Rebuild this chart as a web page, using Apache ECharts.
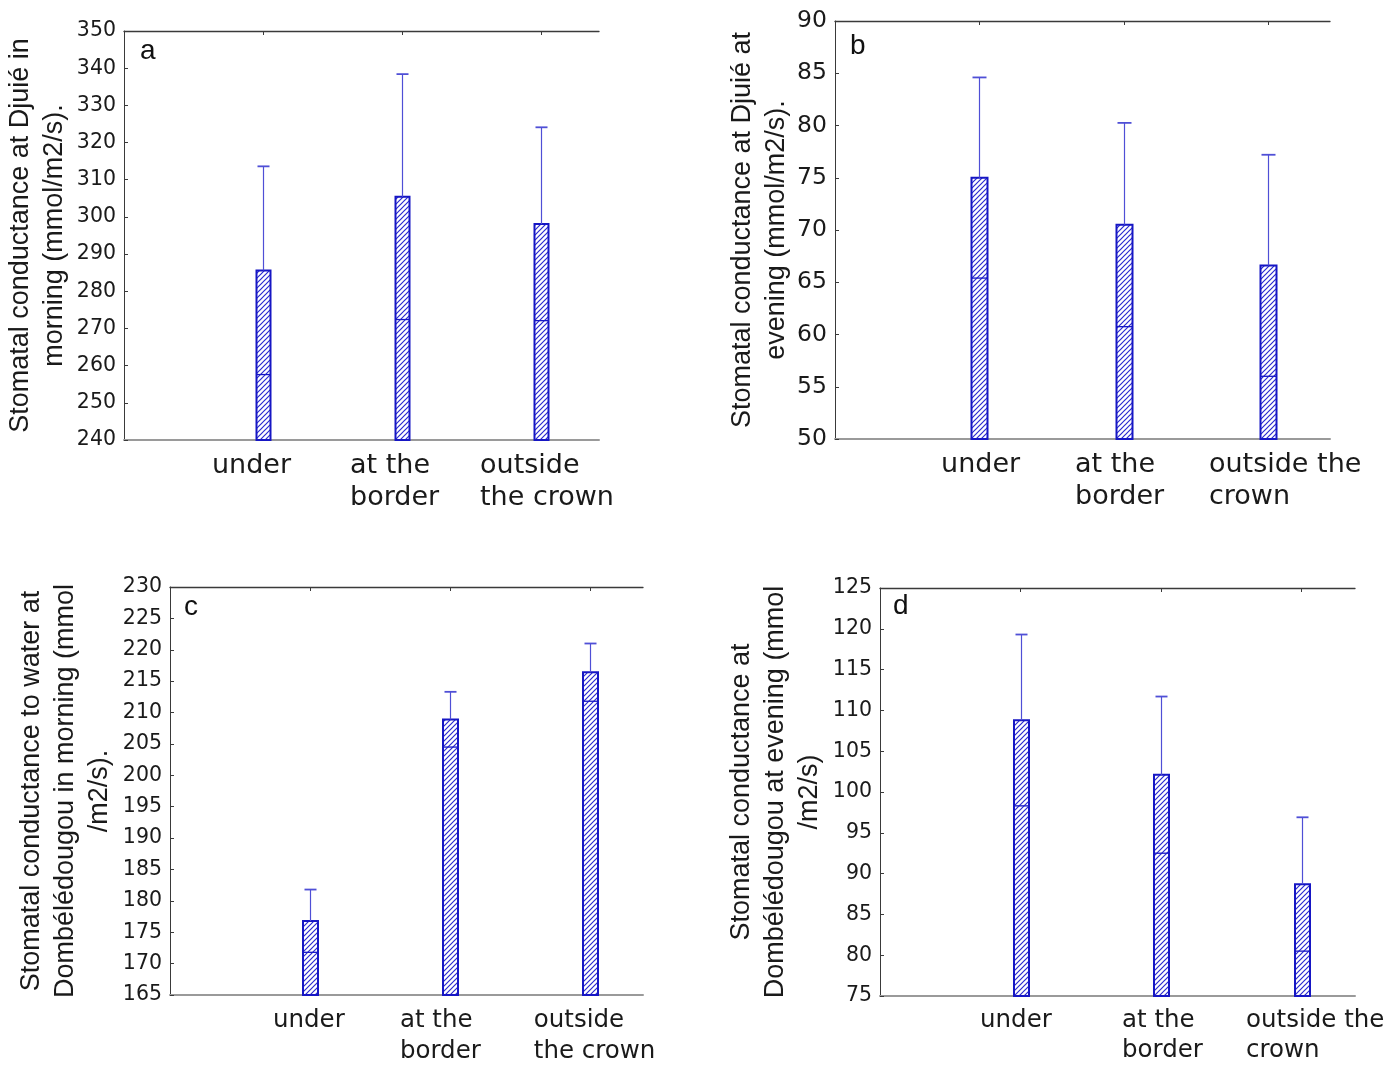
<!DOCTYPE html>
<html>
<head>
<meta charset="utf-8">
<script src="https://cdn.jsdelivr.net/npm/echarts@6/dist/echarts.min.js"></script>
<style>
  html, body { margin: 0; padding: 0; background: #ffffff; }
  #chart { width: 1397px; height: 1067px; }
</style>
</head>
<body>
<div id="chart"></div>
<script>
// ---- Data -----------------------------------------------------------------
// Category labels (two wrapping variants) and their slots on the x scale
const labelsNarrow = ['under', 'at the\nborder', 'outside\nthe crown'];
const labelsWide   = ['under', 'at the\nborder', 'outside the\ncrown'];
const slots = [1, 2, 3];

// Stomatal conductance, mean and standard deviation (mmol/m2/s)
const djuieMorningMean = [285.6, 305.4, 298.1];
const djuieMorningSd   = [28.0, 33.0, 26.0];
const djuieEveningMean = [75.0, 70.5, 66.6];
const djuieEveningSd   = [9.6, 9.75, 10.6];
const dombeMorningMean = [176.8, 208.9, 216.4];
const dombeMorningSd   = [5.0, 4.4, 4.6];
const dombeEveningMean = [108.8, 102.1, 88.7];
const dombeEveningSd   = [10.5, 9.6, 8.2];

// Value-axis ranges
const yRangeA = [240, 350, 10];
const yRangeB = [50, 90, 5];
const yRangeC = [165, 230, 5];
const yRangeD = [75, 125, 5];

// Axis titles
const titleA = 'Stomatal conductance at Djuié in\nmorning (mmol/m2/s).';
const titleB = 'Stomatal conductance at Djuié at\nevening (mmol/m2/s).';
const titleC = 'Stomatal conductance to water at\nDombélédougou in morning (mmol\n/m2/s).';
const titleD = 'Stomatal conductance at\nDombélédougou at evening (mmol\n/m2/s)';

// ---- Styling ----------------------------------------------------------------
const BAR_BLUE = '#1616c4';
const WHISKER_BLUE = '#4f4fd6';
const AXIS_DARK = '#3a3a3a';
const TEXT = '#1a1a1a';

// Diagonal hatch tile for the bar fill
function makeHatch() {
  const s = 5;
  const c = document.createElement('canvas');
  c.width = s; c.height = s;
  const g = c.getContext('2d');
  g.fillStyle = '#ffffff';
  g.fillRect(0, 0, s, s);
  g.strokeStyle = '#2a2ad0';
  g.lineWidth = 1.2;
  g.beginPath();
  g.moveTo(-1, s + 1); g.lineTo(s + 1, -1);
  g.moveTo(-1, 1); g.lineTo(1, -1);
  g.moveTo(s - 1, s + 1); g.lineTo(s + 1, s - 1);
  g.stroke();
  return c;
}
const hatch = { image: makeHatch(), repeat: 'repeat' };

// Panel layout: grid rectangle, x extent, label anchors, fonts
const panels = [
  { letter: 'a', mean: djuieMorningMean, sd: djuieMorningSd, y: yRangeA, title: titleA, labels: labelsNarrow,
    grid: { left: 124, top: 31, width: 475, height: 409 }, xMax: 3.417, labelAt: [0.633, 1.626, 2.561],
    tickSize: 20.5, catSize: 27, catLH: 32, nameGap: 52, barW: 14, capW: 12, letterPos: [140, 51] },
  { letter: 'b', mean: djuieEveningMean, sd: djuieEveningSd, y: yRangeB, title: titleB, labels: labelsWide,
    grid: { left: 835, top: 21, width: 495, height: 418 }, xMax: 3.426, labelAt: [0.734, 1.661, 2.588],
    tickSize: 23.5, catSize: 27, catLH: 32, nameGap: 40, barW: 16, capW: 14, letterPos: [850, 46] },
  { letter: 'c', mean: dombeMorningMean, sd: dombeMorningSd, y: yRangeC, title: titleC, labels: labelsNarrow,
    grid: { left: 170, top: 587, width: 473, height: 409 }, xMax: 3.38, labelAt: [0.736, 1.643, 2.6],
    tickSize: 20.5, catSize: 24.5, catLH: 31, nameGap: 53, barW: 15, capW: 12, letterPos: [184, 607] },
  { letter: 'd', mean: dombeEveningMean, sd: dombeEveningSd, y: yRangeD, title: titleD, labels: labelsWide,
    grid: { left: 880, top: 588, width: 475, height: 408 }, xMax: 3.38, labelAt: [0.712, 1.722, 2.605],
    tickSize: 20.5, catSize: 24.5, catLH: 30, nameGap: 53, barW: 15, capW: 12, letterPos: [893, 606] }
];

function barRenderer(p) {
  return function (params, api) {
    const x = api.value(0), m = api.value(1), s = api.value(2);
    const top = api.coord([x, m]);
    const base = api.coord([x, p.y[0]]);
    const hi = api.coord([x, m + s]);
    const lo = api.coord([x, m - s]);
    const cx = Math.round(top[0]) + 0.5;
    const w = p.barW, cw = p.capW;
    return {
      type: 'group',
      children: [
        { type: 'rect', shape: { x: cx - w / 2, y: top[1], width: w, height: base[1] - top[1] },
          style: { fill: hatch, stroke: BAR_BLUE, lineWidth: 2 } },
        { type: 'line', shape: { x1: cx, y1: top[1], x2: cx, y2: hi[1] },
          style: { stroke: WHISKER_BLUE, lineWidth: 1.2 } },
        { type: 'line', shape: { x1: cx - cw / 2, y1: hi[1], x2: cx + cw / 2, y2: hi[1] },
          style: { stroke: WHISKER_BLUE, lineWidth: 1.8 } },
        { type: 'line', shape: { x1: cx - w / 2, y1: lo[1], x2: cx + w / 2, y2: lo[1] },
          style: { stroke: BAR_BLUE, lineWidth: 1.3 } }
      ]
    };
  };
}

const grid = [], xAxis = [], yAxis = [], series = [], graphic = [];
panels.forEach((p, i) => {
  grid.push(Object.assign({ containLabel: false }, p.grid));
  xAxis.push({
    gridIndex: i, type: 'value', min: 0, max: p.xMax, position: 'bottom',
    axisLine: { show: true, onZero: false, lineStyle: { color: '#9a9a9a', width: 2 } },
    axisTick: { show: false }, splitLine: { show: false },
    axisLabel: {
      customValues: p.labelAt,
      formatter: v => p.labels[Math.round(v) - 1] || '',
      align: 'left', verticalAlign: 'top',
      fontFamily: 'DejaVu Sans', fontSize: p.catSize, lineHeight: p.catLH,
      color: TEXT, margin: 10
    }
  });
  xAxis.push({
    gridIndex: i, type: 'value', min: 0, max: p.xMax, position: 'top',
    axisLine: { show: true, onZero: false, lineStyle: { color: AXIS_DARK, width: 1.3 } },
    axisTick: { show: true, inside: true, length: 4, customValues: slots, lineStyle: { color: AXIS_DARK } },
    axisLabel: { show: false }, splitLine: { show: false }
  });
  yAxis.push({
    gridIndex: i, type: 'value', min: p.y[0], max: p.y[1], interval: p.y[2],
    axisLine: { show: true, onZero: false, lineStyle: { color: AXIS_DARK, width: 1 } },
    axisTick: { show: true, inside: true, length: 4, lineStyle: { color: AXIS_DARK } },
    splitLine: { show: false },
    axisLabel: { fontFamily: 'DejaVu Sans', fontSize: p.tickSize, color: TEXT, margin: 8 },
    name: p.title, nameLocation: 'middle', nameRotate: 90, nameGap: p.nameGap,
    nameTextStyle: { fontFamily: 'Liberation Sans', fontSize: 27, lineHeight: 34, color: TEXT }
  });
  series.push({
    type: 'custom', xAxisIndex: 2 * i, yAxisIndex: i,
    renderItem: barRenderer(p),
    data: slots.map((x, k) => [x, p.mean[k], p.sd[k]]),
    clip: false, silent: true
  });
  graphic.push({
    type: 'text', x: p.letterPos[0], y: p.letterPos[1],
    style: { text: p.letter, font: '28px "Liberation Sans"', fill: '#111111', verticalAlign: 'middle' }
  });
});

const chart = echarts.init(document.getElementById('chart'));
chart.setOption({
  backgroundColor: '#ffffff',
  animation: false,
  grid, xAxis, yAxis, series, graphic
});
</script>
</body>
</html>
